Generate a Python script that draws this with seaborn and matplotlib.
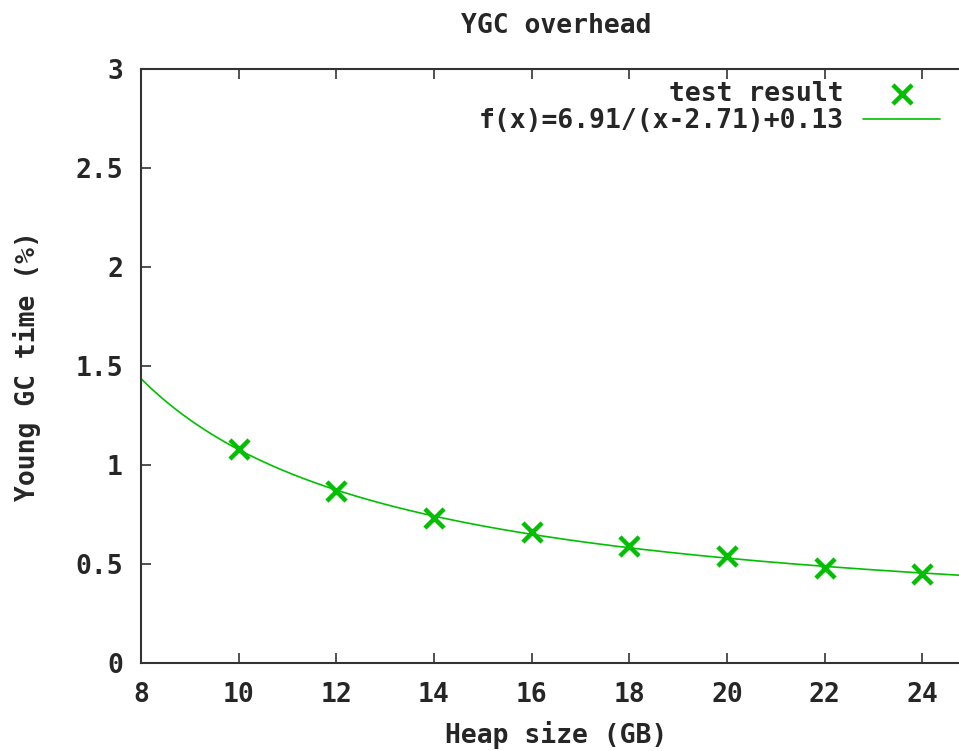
import numpy as np
import pandas as pd
import matplotlib
matplotlib.use("Agg")
import matplotlib.pyplot as plt
import seaborn as sns

# measured points (heap size in GB, young GC time in %)
heap_sizes = [10, 12, 14, 16, 18, 20, 22, 24]
ygc_times = [1.08, 0.87, 0.73, 0.66, 0.59, 0.54, 0.48, 0.45]

# fitted curve coefficients as given in the legend: f(x)=a/(x-b)+c
fit_a, fit_b, fit_c = 6.91, 2.71, 0.13
fit_label = "f(x)=6.91/(x-2.71)+0.13"

x_ticks = [8, 10, 12, 14, 16, 18, 20, 22, 24]
y_ticks = [0, 0.5, 1, 1.5, 2, 2.5, 3]
y_tick_labels = ["0", "0.5", "1", "1.5", "2", "2.5", "3"]

green = "#00c000"
frame = "#333333"

sns.set_style("ticks")
plt.rcParams["font.family"] = ["DejaVu Sans Mono"]
plt.rcParams["font.weight"] = "bold"
plt.rcParams["font.size"] = 19

fig = plt.figure(figsize=(9.59, 7.51), dpi=100)
# plot area runs a bit past the right edge of the picture (cropped like the original)
ax = fig.add_axes([141 / 959, 1 - 663 / 751, (971 - 141) / 959, (663 - 69) / 751])

points = pd.DataFrame({"heap": heap_sizes, "ygc": ygc_times})
fit_x = np.linspace(8, 25, 300)
fit = pd.DataFrame({"heap": fit_x, "ygc": fit_a / (fit_x - fit_b) + fit_c})

sns.lineplot(data=fit, x="heap", y="ygc", ax=ax, color=green, linewidth=1.2,
             label=fit_label, zorder=2)
sns.scatterplot(data=points, x="heap", y="ygc", ax=ax, marker="x", s=190,
                color=green, linewidth=3.2, label="test result", zorder=3)

ax.set_xlim(8, 25)
ax.set_ylim(0, 3)
ax.set_xticks(x_ticks)
ax.set_yticks(y_ticks)
ax.set_yticklabels(y_tick_labels)
ax.tick_params(direction="in", top=True, right=True, length=7, width=1.2,
               color=frame, labelsize=19)
ax.tick_params(axis="x", pad=14)
ax.tick_params(axis="y", pad=13)
for sp in ax.spines.values():
    sp.set_color(frame)
    sp.set_linewidth(1.5)

ax.set_title("YGC overhead", fontsize=19, fontweight="bold", pad=26)
ax.set_xlabel("Heap size (GB)", fontsize=19, fontweight="bold", labelpad=9)
ax.set_ylabel("Young GC time (%)", fontsize=19, fontweight="bold")
ax.yaxis.set_label_coords(-(141 - 41) / 830, 0.5)

handles, labels = ax.get_legend_handles_labels()
order = [labels.index("test result"), labels.index(fit_label)]
ax.legend([handles[i] for i in order], [labels[i] for i in order],
          loc="upper right", bbox_to_anchor=(940 / 959, 1 - 81 / 751),
          bbox_transform=fig.transFigure, frameon=False, markerfirst=False,
          handlelength=2.9, handletextpad=0.75, labelspacing=0.05,
          borderaxespad=0, borderpad=0, fontsize=19)

fig.savefig("out.png", dpi=100)
